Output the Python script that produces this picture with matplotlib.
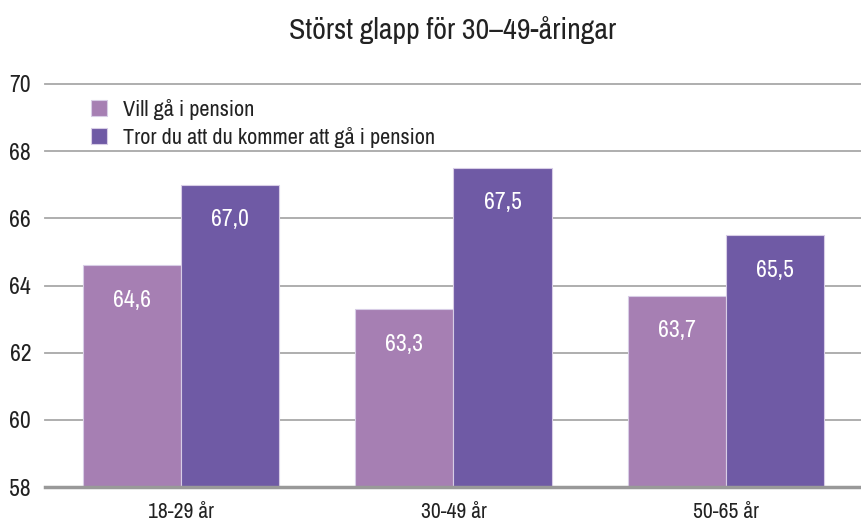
import matplotlib
matplotlib.use("Agg")
import matplotlib.pyplot as plt
from matplotlib import font_manager as fm
import numpy as np

categories = ["18-29 år", "30-49 år", "50-65 år"]
vill = [64.6, 63.3, 63.7]
tror = [67.0, 67.5, 65.5]
series_names = ["Vill gå i pension", "Tror du att du kommer att gå i pension"]
yticks = [58, 60, 62, 64, 66, 68, 70]
title = "Störst glapp för 30–49-åringar"

# pick a condensed sans if one is installed
fam, stretch = "Roboto", "normal"
cands = []
for f in fm.fontManager.ttflist:
    if f.style != "normal" or f.weight not in (400, "normal", "regular"):
        continue
    n = f.name
    st = str(f.stretch)
    if "Narrow" in n or "Condensed" in n:
        cands.append((0 if "Liberation" in n else 1, n, "normal"))
    elif st in ("condensed", "semi-condensed", "extra-condensed") or st in ("75", "87", "62"):
        cands.append((2, n, st))
if cands:
    cands.sort()
    _, fam, stretch = cands[0]
plt.rcParams['font.family'] = [fam, 'DejaVu Sans']
plt.rcParams['font.stretch'] = stretch

c_light = "#A67FB3"
c_dark = "#6F5AA5"
txt = "#222222"

fig = plt.figure(figsize=(8.62, 5.21), dpi=100)
ax = fig.add_axes([45/862, 1-487/521, (862-45)/862, (487-84)/521])

x = np.arange(len(categories))
w = 0.36
b1 = ax.bar(x - w/2, np.array(vill) - 58, w, bottom=58, color=c_light,
            edgecolor="#D8CDE6", linewidth=0.8, zorder=3, label=series_names[0])
b2 = ax.bar(x + w/2, np.array(tror) - 58, w, bottom=58, color=c_dark,
            edgecolor="#D8CDE6", linewidth=0.8, zorder=3, label=series_names[1])

for bars, vals in ((b1, vill), (b2, tror)):
    for r, v in zip(bars, vals):
        ax.annotate(f"{v:.1f}".replace(".", ","),
                    (r.get_x() + r.get_width()/2, v), xytext=(0, -35),
                    textcoords="offset pixels", ha="center", va="center",
                    color="white", fontsize=17, zorder=4)

ax.set_xlim(-0.5, 2.5)
ax.set_ylim(58, 70)
ax.set_yticks(yticks)
ax.set_yticklabels([str(t) for t in yticks], fontsize=17, color=txt)
ax.set_xticks(x)
ax.set_xticklabels(categories, fontsize=15.5, color=txt)
ax.tick_params(axis="y", length=0, pad=10)
ax.tick_params(axis="x", length=0, pad=11)
for s in ("left", "right", "top"):
    ax.spines[s].set_visible(False)
ax.spines["bottom"].set_color("#999999")
ax.spines["bottom"].set_linewidth(2.5)
ax.spines["bottom"].set_zorder(5)
ax.yaxis.grid(True, color="#A8A8A8", linewidth=1.3, zorder=0)
ax.set_axisbelow(True)
for gl in ax.get_ygridlines():
    gl.set_clip_on(False)

ax.legend(loc="upper left", bbox_to_anchor=(0.045, 0.985), frameon=False,
          fontsize=16, handlelength=0.75, handleheight=0.75, handletextpad=0.7,
          labelspacing=0.3, labelcolor=txt, borderaxespad=0)

fig.text(453/862, 1-30/521, title, ha="center", va="center", fontsize=21.5, color=txt)

fig.savefig("out.png", dpi=100)
